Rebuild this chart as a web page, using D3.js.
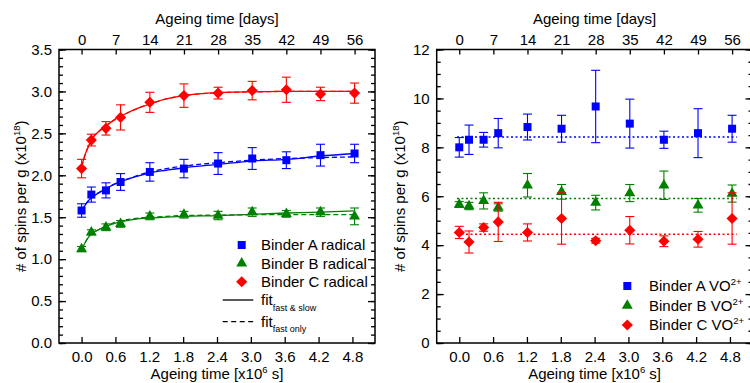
<!DOCTYPE html>
<html>
<head>
<meta charset="utf-8">
<script src="https://cdn.jsdelivr.net/npm/d3@7"></script>
<style>
body { margin: 0; background: #fff; }
text { font-family: "Liberation Sans", Arial, sans-serif; fill: #000; }
</style>
</head>
<body>
<svg id="chart" width="750" height="383"></svg>
<script>
// ageing time of each measurement, in 10^6 s (0, 2, 5, 8, 14 ... 56 days)
const timeS = [0, 0.173, 0.432, 0.691, 1.210, 1.814, 2.419, 3.024, 3.629, 4.234, 4.838];
const dayTicks = [0, 7, 14, 21, 28, 35, 42, 49, 56];
const secTicks = [0, 0.6, 1.2, 1.8, 2.4, 3.0, 3.6, 4.2, 4.8];
const secPerDay = 0.0864; // 10^6 s per day

// left panel: radicals
const radA = [1.58, 1.77, 1.82, 1.92, 2.04, 2.08, 2.14, 2.20, 2.18, 2.24, 2.26];
const radAErr = [0.08, 0.09, 0.09, 0.10, 0.11, 0.11, 0.13, 0.13, 0.10, 0.13, 0.11];
const radB = [1.12, 1.32, 1.38, 1.42, 1.51, 1.53, 1.52, 1.56, 1.54, 1.56, 1.51];
const radBErr = [0.03, 0.03, 0.04, 0.04, 0.04, 0.04, 0.05, 0.05, 0.04, 0.05, 0.10];
const radC = [2.08, 2.42, 2.56, 2.69, 2.87, 2.95, 2.98, 3.01, 3.02, 2.97, 2.98];
const radCErr = [0.11, 0.07, 0.08, 0.15, 0.12, 0.14, 0.07, 0.11, 0.15, 0.08, 0.12];

// fit curves
const fitT = [0, 0.05, 0.1, 0.173, 0.3, 0.432, 0.6, 0.8, 1.0, 1.21, 1.5, 1.814, 2.419, 3.024, 3.629, 4.234, 4.838];
const fitA = [1.57, 1.63, 1.68, 1.73, 1.79, 1.84, 1.90, 1.95, 1.99, 2.03, 2.06, 2.09, 2.13, 2.17, 2.19, 2.23, 2.26];
const fitAFast = [1.57, 1.63, 1.68, 1.73, 1.79, 1.84, 1.90, 1.95, 2.00, 2.04, 2.08, 2.11, 2.15, 2.18, 2.20, 2.21, 2.22];
const fitB = [1.11, 1.18, 1.24, 1.30, 1.35, 1.39, 1.43, 1.46, 1.48, 1.49, 1.50, 1.51, 1.52, 1.535, 1.55, 1.56, 1.575];
const fitBFast = [1.11, 1.18, 1.24, 1.30, 1.35, 1.39, 1.44, 1.47, 1.49, 1.50, 1.51, 1.52, 1.525, 1.53, 1.53, 1.53, 1.53];
const fitC = [2.10, 2.22, 2.31, 2.42, 2.52, 2.59, 2.67, 2.74, 2.80, 2.85, 2.91, 2.95, 2.985, 2.995, 3.0, 3.0, 3.0];
const fitCFast = [2.10, 2.22, 2.31, 2.42, 2.52, 2.59, 2.67, 2.74, 2.80, 2.85, 2.91, 2.95, 2.985, 2.995, 3.0, 3.0, 3.0];

// right panel: VO2+
const voA = [8.00, 8.31, 8.31, 8.58, 8.83, 8.76, 9.67, 8.97, 8.31, 8.58, 8.76];
const voAErr = [0.40, 0.60, 0.30, 0.60, 0.53, 0.55, 1.48, 1.00, 0.35, 1.00, 0.55];
const voB = [5.66, 5.60, 5.81, 5.54, 6.45, 6.18, 5.74, 6.13, 6.45, 5.63, 6.11];
const voBErr = [0.12, 0.15, 0.33, 0.15, 0.48, 0.30, 0.30, 0.35, 0.58, 0.28, 0.35];
const voC = [4.52, 4.13, 4.72, 4.95, 4.52, 5.09, 4.18, 4.61, 4.16, 4.24, 5.09];
const voCErr = [0.25, 0.45, 0.15, 0.80, 0.35, 1.05, 0.10, 0.56, 0.22, 0.32, 1.05];
const voMeans = [8.42, 5.91, 4.45];
const meanSpan = [-0.04, 4.92];

const blue = "#0000ff", green = "#008000", red = "#ff0000";
const fontSize = 15;

const svg = d3.select("#chart");

const yTop = 49.5, yBottom = 343;

const xL = d3.scaleLinear().domain([-0.4, 5.2]).range([59, 375]);
const yL = d3.scaleLinear().domain([0, 3.5]).range([yBottom, yTop]);
const xR = d3.scaleLinear().domain([-0.4, 5.2]).range([436.7, 752.5]);
const yR = d3.scaleLinear().domain([0, 12]).range([yBottom, yTop]);

const squareSym = d3.symbol(d3.symbolSquare, 64);
const triangleSym = d3.symbol(d3.symbolTriangle, 52);
const diamondSym = d3.symbol(d3.symbolSquare, 62);

function supText(sel, parts) {
    // parts: [text, "sup"|"sub"|null]
    let prev = null;
    parts.forEach(p => {
        let dy = 0;
        if (p[1] === "sup") dy = -0.42 * fontSize;
        if (p[1] === "sub") dy = 0.35 * fontSize;
        if (prev === "sup") dy += 0.42 * fontSize;
        if (prev === "sub") dy -= 0.35 * fontSize;
        sel.append("tspan")
            .attr("dy", dy)
            .attr("font-size", p[1] ? (p[1] === "sub" ? 9 : 9.5) : fontSize)
            .text(p[0]);
        prev = p[1];
    });
}

function drawAxes(x, y, yMajor, yMinor, yFmt, yLabelX) {
    const [x0, x1] = x.range();
    const g = svg.append("g");

    const bottom = g.append("g")
        .attr("transform", "translate(0," + yBottom + ")")
        .call(d3.axisBottom(x).tickValues(secTicks).tickSize(-6).tickPadding(8).tickFormat(d3.format(".1f")));
    const top = g.append("g")
        .attr("transform", "translate(0," + yTop + ")")
        .call(d3.axisTop(x).tickValues(dayTicks.map(d => d * secPerDay)).tickSize(-5).tickPadding(5)
            .tickFormat((d, i) => dayTicks[i]));
    const left = g.append("g")
        .attr("transform", "translate(" + x0 + ",0)")
        .call(d3.axisLeft(y).tickValues(yMajor).tickSize(-7).tickPadding(7).tickFormat(yFmt));
    const leftMinor = g.append("g")
        .attr("transform", "translate(" + x0 + ",0)")
        .call(d3.axisLeft(y).tickValues(yMinor).tickSize(-4).tickFormat(""));
    const right = g.append("g")
        .attr("transform", "translate(" + x1 + ",0)")
        .call(d3.axisRight(y).tickValues(yMajor).tickSize(-7).tickFormat(""));
    const rightMinor = g.append("g")
        .attr("transform", "translate(" + x1 + ",0)")
        .call(d3.axisRight(y).tickValues(yMinor).tickSize(-4).tickFormat(""));

    [bottom, top, left, leftMinor, right, rightMinor].forEach(a => {
        a.select(".domain").remove();
        a.selectAll("line").attr("stroke", "#000").attr("stroke-width", 1.3);
        a.selectAll("text").attr("font-size", fontSize).attr("font-family", null).attr("fill", "#000");
    });

    g.append("rect")
        .attr("x", x0).attr("y", yTop)
        .attr("width", x1 - x0).attr("height", yBottom - yTop)
        .attr("fill", "none").attr("stroke", "#000").attr("stroke-width", 1.5);

    const cx = (x0 + x1) / 2;
    g.append("text")
        .attr("x", cx).attr("y", 23.5)
        .attr("text-anchor", "middle").attr("font-size", fontSize)
        .text("Ageing time [days]");
    supText(g.append("text")
        .attr("x", cx).attr("y", 379)
        .attr("text-anchor", "middle"),
        [["Ageing time [x10", null], ["6", "sup"], [" s]", null]]);
    supText(g.append("text")
        .attr("transform", "translate(" + yLabelX + "," + ((yTop + yBottom) / 2) + ") rotate(-90)")
        .attr("text-anchor", "middle"),
        [["# of spins per g (x10", null], ["18", "sup"], [")", null]]);
}

function drawSeries(x, y, vals, errs, color, sym, rot) {
    const g = svg.append("g");
    const pts = timeS.map((t, i) => ({ t: t, v: vals[i], e: errs[i] }));
    const cap = 4.5;
    const eb = g.selectAll("g.eb").data(pts).join("g").attr("stroke", color).attr("stroke-width", 1.1);
    eb.append("line")
        .attr("x1", d => x(d.t)).attr("x2", d => x(d.t))
        .attr("y1", d => y(d.v - d.e)).attr("y2", d => y(d.v + d.e));
    eb.append("line")
        .attr("x1", d => x(d.t) - cap).attr("x2", d => x(d.t) + cap)
        .attr("y1", d => y(d.v + d.e)).attr("y2", d => y(d.v + d.e));
    eb.append("line")
        .attr("x1", d => x(d.t) - cap).attr("x2", d => x(d.t) + cap)
        .attr("y1", d => y(d.v - d.e)).attr("y2", d => y(d.v - d.e));
    g.selectAll("path.m").data(pts).join("path")
        .attr("d", sym)
        .attr("fill", color)
        .attr("transform", d => "translate(" + x(d.t) + "," + y(d.v) + ") rotate(" + rot + ")");
}

function drawFit(x, y, vals, color, dash) {
    const line = d3.line().x((d, i) => x(fitT[i])).y(d => y(d)).curve(d3.curveMonotoneX);
    svg.append("path")
        .attr("d", line(vals))
        .attr("fill", "none").attr("stroke", color).attr("stroke-width", 1.3)
        .attr("stroke-dasharray", dash);
}

// ---- left panel
drawAxes(xL, yL, d3.range(0, 3.51, 0.5), d3.range(0, 3.51, 0.1), d3.format(".1f"), 26);

drawFit(xL, yL, fitAFast, blue, "5,3");
drawFit(xL, yL, fitBFast, green, "5,3");
drawFit(xL, yL, fitCFast, red, "5,3");
drawFit(xL, yL, fitA, blue, null);
drawFit(xL, yL, fitB, green, null);
drawFit(xL, yL, fitC, red, null);

drawSeries(xL, yL, radA, radAErr, blue, squareSym, 0);
drawSeries(xL, yL, radB, radBErr, green, triangleSym, 0);
drawSeries(xL, yL, radC, radCErr, red, diamondSym, 45);

// ---- right panel
drawAxes(xR, yR, d3.range(0, 12.1, 2), d3.range(0, 12.1, 0.5), d3.format("d"), 405);

[blue, green, red].forEach((c, i) => {
    svg.append("line")
        .attr("x1", xR(meanSpan[0])).attr("x2", xR(meanSpan[1]))
        .attr("y1", yR(voMeans[i])).attr("y2", yR(voMeans[i]))
        .attr("stroke", c).attr("stroke-width", 1.5).attr("stroke-dasharray", "2,2.5");
});

drawSeries(xR, yR, voA, voAErr, blue, squareSym, 0);
drawSeries(xR, yR, voB, voBErr, green, triangleSym, 0);
drawSeries(xR, yR, voC, voCErr, red, diamondSym, 45);

// ---- legends
const legLeftNames = ["Binder A radical", "Binder B radical", "Binder C radical"];
const legLeftRows = [245, 263.3, 281.7];
const legSyms = [[squareSym, 0, blue], [triangleSym, 0, green], [diamondSym, 45, red]];

legLeftNames.forEach((n, i) => {
    svg.append("path")
        .attr("d", legSyms[i][0])
        .attr("fill", legSyms[i][2])
        .attr("transform", "translate(241.7," + legLeftRows[i] + ") rotate(" + legSyms[i][1] + ")");
    svg.append("text")
        .attr("x", 261).attr("y", legLeftRows[i] + 5.3)
        .attr("font-size", fontSize).text(n);
});

const legFitRows = [300, 321.7];
const legFitSubs = ["fast & slow", "fast only"];
legFitRows.forEach((r, i) => {
    svg.append("line")
        .attr("x1", 222.7).attr("x2", 253.3).attr("y1", r).attr("y2", r)
        .attr("stroke", "#000").attr("stroke-width", 1.3)
        .attr("stroke-dasharray", i ? "5,3.5" : null);
    supText(svg.append("text").attr("x", 261).attr("y", r + 5.3),
        [["fit", null], [legFitSubs[i], "sub"]]);
});

const legRightNames = ["Binder A VO", "Binder B VO", "Binder C VO"];
const legRightRows = [286, 305.5, 325];
legRightNames.forEach((n, i) => {
    svg.append("path")
        .attr("d", legSyms[i][0])
        .attr("fill", legSyms[i][2])
        .attr("transform", "translate(627.3," + legRightRows[i] + ") rotate(" + legSyms[i][1] + ")");
    supText(svg.append("text").attr("x", 649).attr("y", legRightRows[i] + 5.3),
        [[n, null], ["2+", "sup"]]);
});
</script>
</body>
</html>
